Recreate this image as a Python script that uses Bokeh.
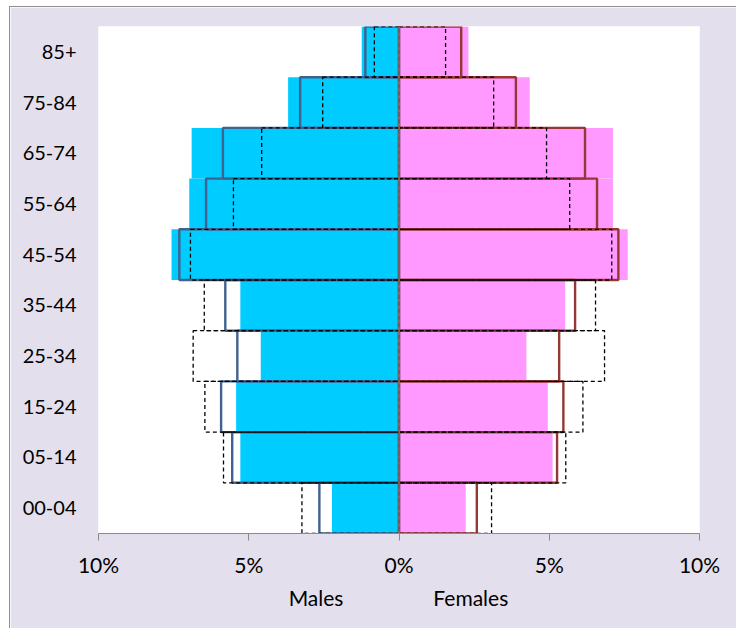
from bokeh.plotting import figure
from bokeh.models import FactorRange, Range1d, FixedTicker, LinearAxis, Span, ColumnDataSource
from bokeh.embed import file_html
from bokeh.resources import INLINE

categories = ["00-04", "05-14", "15-24", "25-34", "35-44", "45-54", "55-64", "65-74", "75-84", "85+"]
males_fill = [2.23, 5.28, 5.42, 4.60, 5.28, 7.57, 6.98, 6.90, 3.69, 1.24]
females_fill = [2.22, 5.11, 4.95, 4.24, 5.53, 7.61, 7.12, 7.12, 4.35, 2.31]
males_solid = [2.65, 5.55, 5.92, 5.38, 5.78, 7.31, 6.42, 5.86, 3.29, 1.12]
females_solid = [2.59, 5.26, 5.47, 5.33, 5.86, 7.30, 6.59, 6.19, 3.89, 2.07]
males_dash = [3.23, 5.84, 6.46, 6.85, 6.48, 6.94, 5.51, 4.57, 2.54, 0.82]
females_dash = [3.08, 5.55, 6.12, 6.84, 6.54, 7.08, 5.68, 4.91, 3.15, 1.55]
tick_values = [-10, -5, 0, 5, 10]
tick_labels = ["10%", "5%", "0%", "5%", "10%"]
sex_labels = ["Males", "Females"]
sex_label_pos = [-2.76, 2.39]

FONT = "Lato"
BG = "#E4DFEC"

src = ColumnDataSource(dict(
    cat=categories,
    mf=[-v for v in males_fill], ff=females_fill,
    ms=[-v for v in males_solid], fs=females_solid,
    md=[-v for v in males_dash], fd=females_dash,
))

p = figure(width=727, height=622, output_backend="svg", toolbar_location=None,
           x_range=Range1d(-10, 10), y_range=FactorRange(*categories, range_padding=0),
           min_border_left=88, min_border_right=38, min_border_top=19, min_border_bottom=96)
p.background_fill_color = "white"
p.border_fill_color = BG
p.outline_line_color = None
p.xgrid.visible = False
p.ygrid.visible = False
p.styles = {"margin-left": "9px", "margin-top": "6px",
            "border-left": "1px solid #8f8f8f", "border-top": "1px solid #8f8f8f"}

# filled bars
p.hbar(y="cat", left="mf", right=0, height=1.0, source=src, fill_color="#00CCFF", line_color=None)
p.hbar(y="cat", left=0, right="ff", height=1.0, source=src, fill_color="#FF99FF", line_color=None)
# solid outlines
p.hbar(y="cat", left="ms", right=0, height=1.0, source=src, fill_color=None,
       line_color="#41618E", line_width=2.4)
p.hbar(y="cat", left=0, right="fs", height=1.0, source=src, fill_color=None,
       line_color="#953735", line_width=2.4)
# dashed outlines
p.hbar(y="cat", left="md", right=0, height=1.0, source=src, fill_color=None,
       line_color="black", line_width=1.3, line_dash="4 3")
p.hbar(y="cat", left=0, right="fd", height=1.0, source=src, fill_color=None,
       line_color="black", line_width=1.3, line_dash="4 3")

# vertical axis line at 0
p.add_layout(Span(location=0, dimension="height", line_color="#7f7f7f", line_width=1.5))

xa = p.xaxis[0]
xa.ticker = FixedTicker(ticks=tick_values)
xa.major_label_overrides = {v: l for v, l in zip(tick_values, tick_labels)}
xa.axis_line_color = "#8a8a8a"
xa.major_tick_line_color = "#8a8a8a"
xa.major_tick_in = 0
xa.major_tick_out = 7
xa.minor_tick_out = 0
xa.minor_tick_in = 0
xa.major_label_standoff = 11
xa.major_label_text_font = FONT
xa.major_label_text_font_size = "21px"
xa.major_label_text_color = "black"

# second axis carrying the Males / Females titles
xa2 = LinearAxis(ticker=FixedTicker(ticks=sex_label_pos),
                 major_label_overrides={v: l for v, l in zip(sex_label_pos, sex_labels)})
xa2.axis_line_color = None
xa2.major_tick_line_color = None
xa2.minor_tick_line_color = None
xa2.major_tick_in = 0
xa2.major_tick_out = 0
xa2.major_label_standoff = 5
xa2.major_label_text_font = FONT
xa2.major_label_text_font_size = "21px"
xa2.major_label_text_color = "black"
p.add_layout(xa2, "below")

ya = p.yaxis[0]
ya.axis_line_color = None
ya.major_tick_line_color = None
ya.minor_tick_line_color = None
ya.major_tick_out = 0
ya.major_label_standoff = 22
ya.major_label_text_font = FONT
ya.major_label_text_font_size = "20px"
ya.major_label_text_color = "black"

open("out.html", "w").write(file_html(p, INLINE))
